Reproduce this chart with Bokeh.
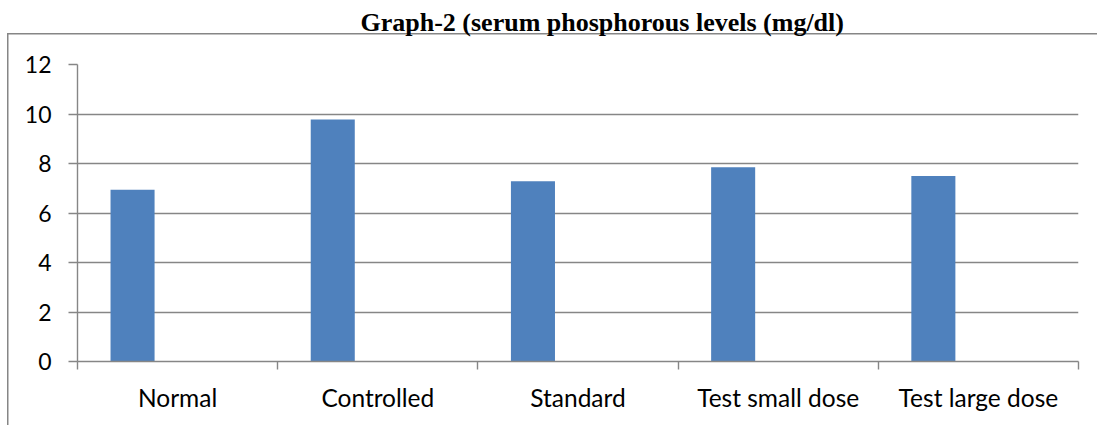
from bokeh.plotting import figure
from bokeh.models import ColumnDataSource, FixedTicker, Range1d, Title
from bokeh.embed import file_html
from bokeh.resources import INLINE

categories = ["Normal", "Controlled", "Standard", "Test small dose", "Test large dose"]
values = [6.94, 9.78, 7.28, 7.85, 7.49]
y_ticks = [0, 2, 4, 6, 8, 10, 12]
title_text = "Graph-2 (serum phosphorous levels (mg/dl)"

GRID = "#868686"
BAR = "#4F81BD"
FONT = "Lato"

n = len(categories)
x_pos = [i + 0.275 for i in range(n)]
src = ColumnDataSource(dict(x=x_pos, top=values, cat=categories))

p = figure(width=1097, height=425, output_backend="svg", toolbar_location=None,
           x_range=Range1d(0, n), y_range=Range1d(0, 12),
           min_border_left=77, min_border_right=19, min_border_top=64, min_border_bottom=64)
p.outline_line_color = None
p.background_fill_color = "white"
p.border_fill_alpha = 0

# outer chart border (left and top edges of the chart area) drawn behind the canvas
line = f"linear-gradient({GRID}, {GRID})"
p.styles = {
    "background-color": "white",
    "background-image": f"{line}, {line}",
    "background-size": "1.5px 400px, 1100px 1.5px",
    "background-position": "7px 33px, 7px 33px",
    "background-repeat": "no-repeat",
}

p.vbar(x="x", top="top", bottom=0, width=0.22, source=src, fill_color=BAR, line_color=None)

# spacer between frame and title
p.add_layout(Title(text=" ", text_font_size="16px", standoff=4), "above")

# title
p.title.text = title_text
p.title.align = "left"
p.title.offset = 283
p.title.text_font = "Liberation Serif"
p.title.text_font_style = "bold"
p.title.text_font_size = "26px"
p.title.text_color = "black"

# grid
p.xgrid.visible = False
p.ygrid.ticker = FixedTicker(ticks=y_ticks)
p.ygrid.grid_line_color = GRID
p.ygrid.grid_line_width = 1.4

# y axis
p.yaxis.ticker = FixedTicker(ticks=y_ticks)
p.yaxis.axis_line_color = GRID
p.yaxis.axis_line_width = 1.4
p.yaxis.major_tick_line_color = GRID
p.yaxis.major_tick_line_width = 1.4
p.yaxis.major_tick_out = 9
p.yaxis.major_tick_in = 0
p.yaxis.minor_tick_line_color = None
p.yaxis.major_label_standoff = 17
p.yaxis.major_label_text_font = FONT
p.yaxis.major_label_text_font_size = "23px"
p.yaxis.major_label_text_color = "black"

# x axis
centers = [i + 0.5 for i in range(n)]
bounds = list(range(n + 1))
p.xaxis.ticker = FixedTicker(ticks=centers, minor_ticks=bounds)
p.xaxis.major_label_overrides = {c: lab for c, lab in zip(centers, categories)}
p.xaxis.axis_line_color = GRID
p.xaxis.axis_line_width = 1.4
p.xaxis.major_tick_line_color = None
p.xaxis.major_tick_out = 0
p.xaxis.major_tick_in = 0
p.xaxis.minor_tick_line_color = GRID
p.xaxis.minor_tick_line_width = 1.4
p.xaxis.minor_tick_out = 8
p.xaxis.minor_tick_in = 0
p.xaxis.major_label_standoff = 13
p.xaxis.major_label_text_font = FONT
p.xaxis.major_label_text_font_size = "24.5px"
p.xaxis.major_label_text_color = "black"

open("out.html", "w").write(file_html(p, INLINE))
